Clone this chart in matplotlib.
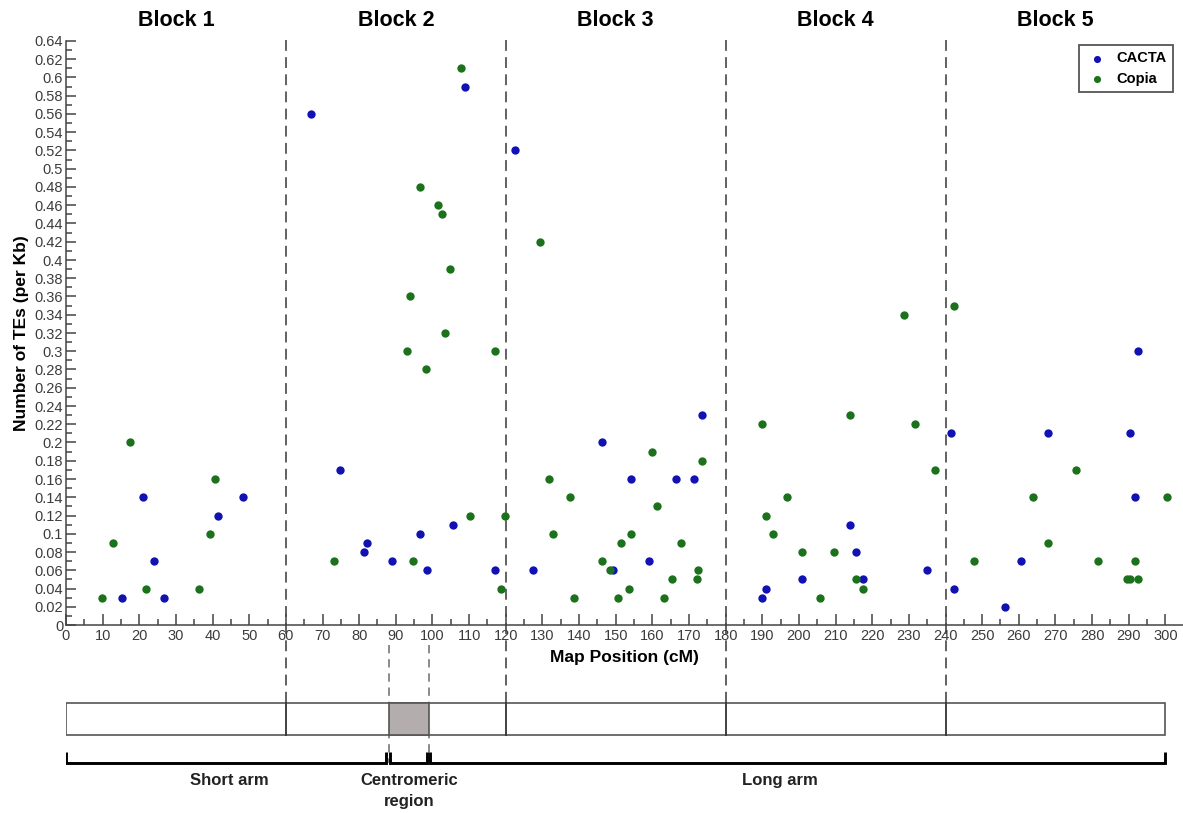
import matplotlib
matplotlib.use("Agg")
import matplotlib.pyplot as plt
from matplotlib.patches import Rectangle
import numpy as np

plt.rcParams['font.family'] = ['Liberation Sans', 'DejaVu Sans']

# ---- data ----
cacta_pos = [15.4, 20.9, 23.9, 26.7, 41.6, 48.4,
             66.8, 74.9, 81.4, 82.1, 88.9, 96.7, 98.5, 105.5, 109.0, 117.0,
             122.4, 127.4, 146.2, 149.3, 154.3, 159.1, 166.5, 171.5, 173.5,
             189.8, 190.9, 200.7, 213.9, 215.6, 217.6, 235.0,
             241.6, 242.4, 256.1, 260.7, 268.0, 290.3, 291.8, 292.6]
cacta_val = [0.03, 0.14, 0.07, 0.03, 0.12, 0.14,
             0.56, 0.17, 0.08, 0.09, 0.07, 0.10, 0.06, 0.11, 0.59, 0.06,
             0.52, 0.06, 0.20, 0.06, 0.16, 0.07, 0.16, 0.16, 0.23,
             0.03, 0.04, 0.05, 0.11, 0.08, 0.05, 0.06,
             0.21, 0.04, 0.02, 0.07, 0.21, 0.21, 0.14, 0.30]

copia_pos = [9.9, 12.9, 17.5, 21.7, 36.3, 39.4, 40.7,
             73.0, 93.0, 94.0, 94.6, 96.7, 98.2, 101.4, 102.6, 103.3, 104.7,
             107.8, 110.2, 117.0, 118.6, 119.8,
             129.3, 131.7, 132.9, 137.5, 138.5, 146.2, 148.4, 150.5, 151.5,
             153.5, 154.3, 160.0, 161.2, 163.3, 165.3, 167.8, 172.1, 172.5, 173.5,
             189.8, 190.9, 192.9, 196.7, 200.7, 205.8, 209.6, 213.9, 215.5,
             217.5, 228.7, 231.7, 237.2,
             242.4, 247.7, 263.8, 268.0, 275.6, 281.6, 289.4, 290.3, 291.8,
             292.6, 300.3]
copia_val = [0.03, 0.09, 0.20, 0.04, 0.04, 0.10, 0.16,
             0.07, 0.30, 0.36, 0.07, 0.48, 0.28, 0.46, 0.45, 0.32, 0.39,
             0.61, 0.12, 0.30, 0.04, 0.12,
             0.42, 0.16, 0.10, 0.14, 0.03, 0.07, 0.06, 0.03, 0.09,
             0.04, 0.10, 0.19, 0.13, 0.03, 0.05, 0.09, 0.05, 0.06, 0.18,
             0.22, 0.12, 0.10, 0.14, 0.08, 0.03, 0.08, 0.23, 0.05,
             0.04, 0.34, 0.22, 0.17,
             0.35, 0.07, 0.14, 0.09, 0.17, 0.07, 0.05, 0.05, 0.07,
             0.05, 0.14]

block_bounds = [0, 60, 120, 180, 240, 300]
block_labels = ["Block 1", "Block 2", "Block 3", "Block 4", "Block 5"]
centromere = [88.2, 99.1]
arm_labels = ["Short arm", "Centromeric\nregion", "Long arm"]
arm_ranges = [(0, 87.4), (88.4, 98.6), (99.4, 300)]
arm_label_pos = [44.6, 93.7, 194.7]
y_ticks = [round(0.02 * i, 2) for i in range(33)]
x_ticks = list(range(0, 301, 10))

BLUE = "#1212B4"
GREEN = "#1C721C"
DASH = "#555555"

W, H = 1183, 813
fig = plt.figure(figsize=(W / 100, H / 100), dpi=100)

XMAX = 304.8
x0 = 66 / W

# overlay axes for dashed lines / bar / brackets (y in pixels from top)
ov = fig.add_axes([x0, 0, 1 - x0, 1])
ov.set_xlim(0, XMAX)
ov.set_ylim(H, 0)
ov.axis('off')

ax = fig.add_axes([x0, 1 - 625 / H, 1 - x0, (625 - 41) / H])
ax.patch.set_alpha(0)
ax.set_xlim(0, XMAX)
ax.set_ylim(0, 0.64)

ax.scatter(cacta_pos, cacta_val, s=36, color=BLUE, marker='o', linewidths=0,
           zorder=3, label="CACTA")
ax.scatter(copia_pos, copia_val, s=36, color=GREEN, marker='o', linewidths=0,
           zorder=3, label="Copia")

ax.set_yticks(y_ticks)
ax.set_yticklabels(['%g' % v for v in y_ticks])
ax.set_yticks(np.arange(0.01, 0.64, 0.02), minor=True)
ax.set_xticks(x_ticks)
ax.set_xticks(np.arange(5, 301, 10), minor=True)
ax.tick_params(axis='both', which='major', direction='in', labelsize=10.5,
               colors='#444444', labelcolor='#3c3c3c', width=1.1)
ax.tick_params(axis='y', which='major', length=7, pad=2)
ax.tick_params(axis='x', which='major', length=8, pad=3)
ax.tick_params(axis='both', which='minor', direction='in', length=4,
               colors='#444444', width=1.1)
for s in ['top', 'right']:
    ax.spines[s].set_visible(False)
for s in ['left', 'bottom']:
    ax.spines[s].set_color('#444444')
    ax.spines[s].set_linewidth(1.1)

ax.set_ylabel("Number of TEs (per Kb)", fontsize=12.5, fontweight='bold', labelpad=4)
ax.set_xlabel("Map Position (cM)", fontsize=12.5, fontweight='bold', labelpad=5)

leg = ax.legend(loc='upper right', bbox_to_anchor=(0.9975, 1.006),
                prop={'weight': 'bold', 'size': 10.5}, frameon=True, fancybox=False,
                handletextpad=0.5, borderpad=0.45, labelspacing=0.45,
                handlelength=1.6, markerscale=0.85, framealpha=1)
leg.get_frame().set_edgecolor('#555555')
leg.get_frame().set_linewidth(1.3)

for b in block_bounds[1:-1]:
    ov.plot([b, b], [40, 703], color=DASH, lw=1.3, dashes=(6, 3.5))

for i, lab in enumerate(block_labels):
    c = (block_bounds[i] + block_bounds[i + 1]) / 2
    ov.text(c, 20, lab, ha='center', va='center', fontsize=15.5, fontweight='bold')

# chromosome bar
bar_top, bar_bot = 703, 735
ov.add_patch(Rectangle((0, bar_top), 300, bar_bot - bar_top, facecolor='white',
                       edgecolor='#555555', lw=1.2, zorder=2))
ov.add_patch(Rectangle((centromere[0], bar_top), centromere[1] - centromere[0],
                       bar_bot - bar_top, facecolor='#b3adad', edgecolor='#555555',
                       lw=1.2, zorder=3))
for b in block_bounds[1:-1]:
    ov.plot([b, b], [bar_top, bar_bot], color='#333333', lw=1.3, zorder=4)

for c in centromere:
    ov.plot([c, c], [645, 763], color='#777777', lw=1.2, dashes=(5, 3.5), zorder=1)

# brackets
by, bt = 763, 752
for (a, b) in arm_ranges:
    ov.plot([a, a, b, b], [bt, by, by, bt], color='black', lw=2.1,
            solid_joinstyle='miter', solid_capstyle='butt', zorder=5)

for lab, xp in zip(arm_labels, arm_label_pos):
    yy = 791 if '\n' in lab else 780
    ov.text(xp, yy, lab, ha='center', va='center',
            fontsize=12, fontweight='bold', color='#222222', linespacing=1.55)

fig.savefig("out.png", dpi=100)
